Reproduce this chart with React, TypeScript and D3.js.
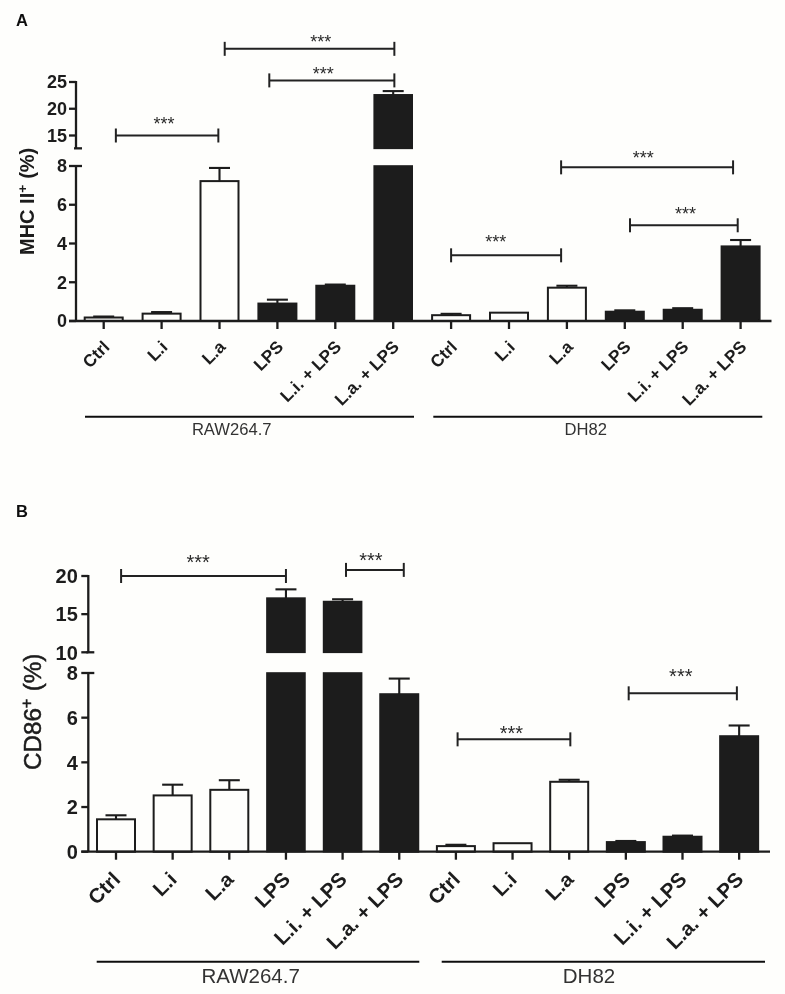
import React from "react";
import * as d3 from "d3";

const categories = ["Ctrl", "L.i", "L.a", "LPS", "L.i. + LPS", "L.a. + LPS", "Ctrl", "L.i", "L.a", "LPS", "L.i. + LPS", "L.a. + LPS"];
const filledFlags = [false, false, false, true, true, true, false, false, false, true, true, true];

const mhcValues = [0.18, 0.38, 7.22, 0.9, 1.82, 22.6, 0.3, 0.43, 1.72, 0.48, 0.58, 3.85];
const mhcErrors = [0.05, 0.08, 0.68, 0.2, 0.06, 0.7, 0.07, 0.0, 0.1, 0.07, 0.08, 0.33];
const cd86Values = [1.45, 2.52, 2.77, 17.1, 16.65, 7.05, 0.25, 0.38, 3.13, 0.43, 0.67, 5.17];
const cd86Errors = [0.18, 0.48, 0.43, 1.15, 0.3, 0.7, 0.06, 0.0, 0.09, 0.05, 0.05, 0.48];

const lowerTicks = [0, 2, 4, 6, 8];
const mhcUpperTicks = [15, 20, 25];
const cd86UpperTicks = [10, 15, 20];

type Bracket = { from: number; to: number; level: number; band: "upper" | "lower"; stars: number; above: number };
const mhcBrackets: Bracket[] = [
  { from: 0.21, to: 1.98, level: 15, band: "upper", stars: 1.04, above: 13 },
  { from: 2.09, to: 5.02, level: 31.2, band: "upper", stars: 3.75, above: 8.7 },
  { from: 2.86, to: 5.02, level: 25.3, band: "upper", stars: 3.79, above: 7.7 },
  { from: 6.0, to: 7.9, level: 3.39, band: "lower", stars: 6.77, above: 15 },
  { from: 7.9, to: 10.87, level: 7.93, band: "lower", stars: 9.32, above: 10.7 },
  { from: 9.09, to: 10.95, level: 4.94, band: "lower", stars: 10.05, above: 13 },
];
const cd86Brackets: Bracket[] = [
  { from: 0.09, to: 3.0, level: 20, band: "upper", stars: 1.45, above: 15 },
  { from: 4.06, to: 5.08, level: 20.8, band: "upper", stars: 4.5, above: 10.7 },
  { from: 6.03, to: 8.02, level: 5.03, band: "lower", stars: 6.98, above: 7.7 },
  { from: 9.05, to: 10.96, level: 7.09, band: "lower", stars: 9.97, above: 19 },
];

const INK = "#1b1b1b";
const FONT = "'Liberation Sans', Arial, sans-serif";

type PanelProps = {
  letter: string; letterY: number;
  values: number[]; errors: number[];
  upperTicks: number[]; upperMin: number;
  brackets: Bracket[];
  axisX: number; axisEnd: number; firstX: number; step: number;
  y0: number; y8: number; upperA: [number, number]; upperB: [number, number];
  tickFont: number; tickGap: number; catFont: number; catDy: number; catDx: number; labelFont: number;
  yLabel: string; yLabelX: number; yLabelY: number; yFont: number; yWeight: number | string; yStroke: number;
  groups: { label: string; x1: number; x2: number; cx: number }[];
  groupY: number; groupFont: number; groupBase: number; barW: number; capW: number; capOver: number;
};

function Panel(p: PanelProps) {
  const x = d3.scaleLinear().domain([0, 11]).range([p.firstX, p.firstX + 11 * p.step]);
  const yLow = d3.scaleLinear().domain([0, 8]).range([p.y0, p.y8]);
  const yUp = d3.scaleLinear().domain([p.upperA[0], p.upperB[0]]).range([p.upperA[1], p.upperB[1]]);
  const yTop = yLow(8);
  const yBreak = yUp(p.upperMin);
  const yAny = (v: number) => (v > 8 ? yUp(v) : yLow(v));
  const upperAxisTop = yUp(d3.max(p.upperTicks)!);

  return (
    <g>
      <text x={16} y={p.letterY} fontFamily={FONT} fontWeight={700} fontSize={16.5} fill="#111">{p.letter}</text>

      {p.values.map((v, i) => {
        const cx = x(i);
        const hw = p.barW / 2;
        const fill = filledFlags[i] ? INK : "#fefefc";
        const top = yAny(v);
        const errTop = yAny(v + p.errors[i]);
        const capHalf = p.capW / 2;
        return (
          <g key={i}>
            {p.errors[i] > 0 && (
              <g stroke={INK} strokeWidth={2.1}>
                <line x1={cx} x2={cx} y1={top} y2={errTop} />
                <line x1={cx - capHalf} x2={cx + capHalf} y1={errTop} y2={errTop} />
              </g>
            )}
            {v > 8 ? (
              <g fill={fill} stroke={INK} strokeWidth={1.6}>
                <rect x={cx - hw} width={p.barW} y={top} height={yBreak - top} />
                <rect x={cx - hw} width={p.barW} y={yTop} height={p.y0 - yTop} />
              </g>
            ) : (
              <rect x={cx - hw} width={p.barW} y={top} height={p.y0 - top} fill={fill} stroke={INK} strokeWidth={2} />
            )}
          </g>
        );
      })}

      <g stroke={INK} strokeWidth={2.3} fill="none">
        <line x1={p.axisX} x2={p.axisX} y1={p.y0} y2={yTop} />
        <line x1={p.axisX} x2={p.axisX} y1={yBreak} y2={upperAxisTop - 1} />
        <line x1={p.axisX - 7} x2={p.axisEnd} y1={p.y0} y2={p.y0} />
        {lowerTicks.map((t) => (
          <line key={t} x1={p.axisX - 7} x2={t === 8 ? p.axisX + p.capOver : p.axisX} y1={yLow(t)} y2={yLow(t)} />
        ))}
        {p.upperTicks.map((t) => (
          <line key={t} x1={p.axisX - 7} x2={p.axisX} y1={yUp(t)} y2={yUp(t)} />
        ))}
        <line x1={p.axisX - 2} x2={p.axisX + p.capOver} y1={yBreak} y2={yBreak} />
        {p.values.map((_, i) => (
          <line key={i} x1={x(i)} x2={x(i)} y1={p.y0} y2={p.y0 + 8} />
        ))}
      </g>

      <g fontFamily={FONT} fontWeight={700} fontSize={p.tickFont} fill="#1c1c1c" textAnchor="end">
        {lowerTicks.map((t) => (
          <text key={t} x={p.axisX - p.tickGap} y={yLow(t)} dy="0.36em">{t}</text>
        ))}
        {p.upperTicks.map((t) => (
          <text key={t} x={p.axisX - p.tickGap} y={yUp(t)} dy="0.36em">{t}</text>
        ))}
      </g>

      <g fontFamily={FONT} fontWeight={700} fontSize={p.catFont} fill="#1c1c1c" textAnchor="end">
        {categories.map((c, i) => (
          <text key={i} transform={`translate(${x(i) + p.catDx},${p.y0 + p.catDy}) rotate(-45)`}>{c}</text>
        ))}
      </g>

      <text transform={`translate(${p.yLabelX},${p.yLabelY}) rotate(-90)`} fontFamily={FONT} fontWeight={p.yWeight} fontSize={p.yFont} fill="#1c1c1c" stroke="#1c1c1c" strokeWidth={p.yStroke}>
        {p.yLabel}
        <tspan dy={-p.yFont * 0.36} fontSize={p.yFont * 0.68}>+</tspan>
        <tspan dy={p.yFont * 0.36} dx={p.yFont * 0.3}>(%)</tspan>
      </text>

      {p.brackets.map((b, i) => {
        const by = b.band === "upper" ? yUp(b.level) : yLow(b.level);
        return (
          <g key={i}>
            <g stroke="#222" strokeWidth={2}>
              <line x1={x(b.from)} x2={x(b.to)} y1={by} y2={by} />
              <line x1={x(b.from)} x2={x(b.from)} y1={by - 7} y2={by + 7} />
              <line x1={x(b.to)} x2={x(b.to)} y1={by - 7} y2={by + 7} />
            </g>
            <text x={x(b.stars)} y={by - b.above + 0.41 * p.labelFont} textAnchor="middle" fontFamily={FONT} fontWeight={400} fontSize={p.labelFont} fill="#2a2a2a">***</text>
          </g>
        );
      })}

      {p.groups.map((g) => (
        <g key={g.label}>
          <line x1={g.x1} x2={g.x2} y1={p.groupY} y2={p.groupY} stroke="#111" strokeWidth={2.1} />
          <text x={g.cx} y={p.groupBase} textAnchor="middle" fontFamily={FONT} fontSize={p.groupFont} fill="#333">{g.label}</text>
        </g>
      ))}
    </g>
  );
}

export default function App() {
  return (
    <svg width={785} height={994} style={{ position: "absolute", left: 0, top: 0, display: "block", background: "#fefefc" }}>
      <defs>
        <filter id="soft" x="0" y="0" width="100%" height="100%" filterUnits="userSpaceOnUse" primitiveUnits="userSpaceOnUse">
          <feGaussianBlur stdDeviation="0.45" />
        </filter>
      </defs>
      <g filter="url(#soft)">
        <rect width={785} height={994} fill="#fefefc" />
        <Panel
          letter="A" letterY={26}
          values={mhcValues} errors={mhcErrors}
          upperTicks={mhcUpperTicks} upperMin={12.6}
          brackets={mhcBrackets}
          axisX={76} axisEnd={771.5} firstX={103.7} step={57.9}
          y0={321} y8={166} upperA={[15, 135.5]} upperB={[25, 82]}
          tickFont={18} tickGap={9} catFont={17.2} catDy={27} catDx={7} labelFont={18}
          yLabel="MHC II" yLabelX={34} yLabelY={255} yFont={20} yWeight={700} yStroke={0}
          groups={[
            { label: "RAW264.7", x1: 85, x2: 414, cx: 231.7 },
            { label: "DH82", x1: 433.3, x2: 762.3, cx: 585.7 },
          ]}
          groupY={416.7} groupFont={16.6} groupBase={434.5} barW={38} capW={21} capOver={6}
        />
        <Panel
          letter="B" letterY={517}
          values={cd86Values} errors={cd86Errors}
          upperTicks={cd86UpperTicks} upperMin={10}
          brackets={cd86Brackets}
          axisX={88.3} axisEnd={770} firstX={116} step={56.65}
          y0={851.7} y8={673} upperA={[10, 652.3]} upperB={[20, 576]}
          tickFont={20} tickGap={10.5} catFont={20.5} catDy={29} catDx={5.5} labelFont={20}
          yLabel="CD86" yLabelX={41} yLabelY={770} yFont={24.2} yWeight={400} yStroke={0.5}
          groups={[
            { label: "RAW264.7", x1: 96.7, x2: 419.3, cx: 250.7 },
            { label: "DH82", x1: 441.7, x2: 765, cx: 589 },
          ]}
          groupY={961.7} groupFont={20.5} groupBase={983} barW={38} capW={21} capOver={6}
        />
      </g>
    </svg>
  );
}
